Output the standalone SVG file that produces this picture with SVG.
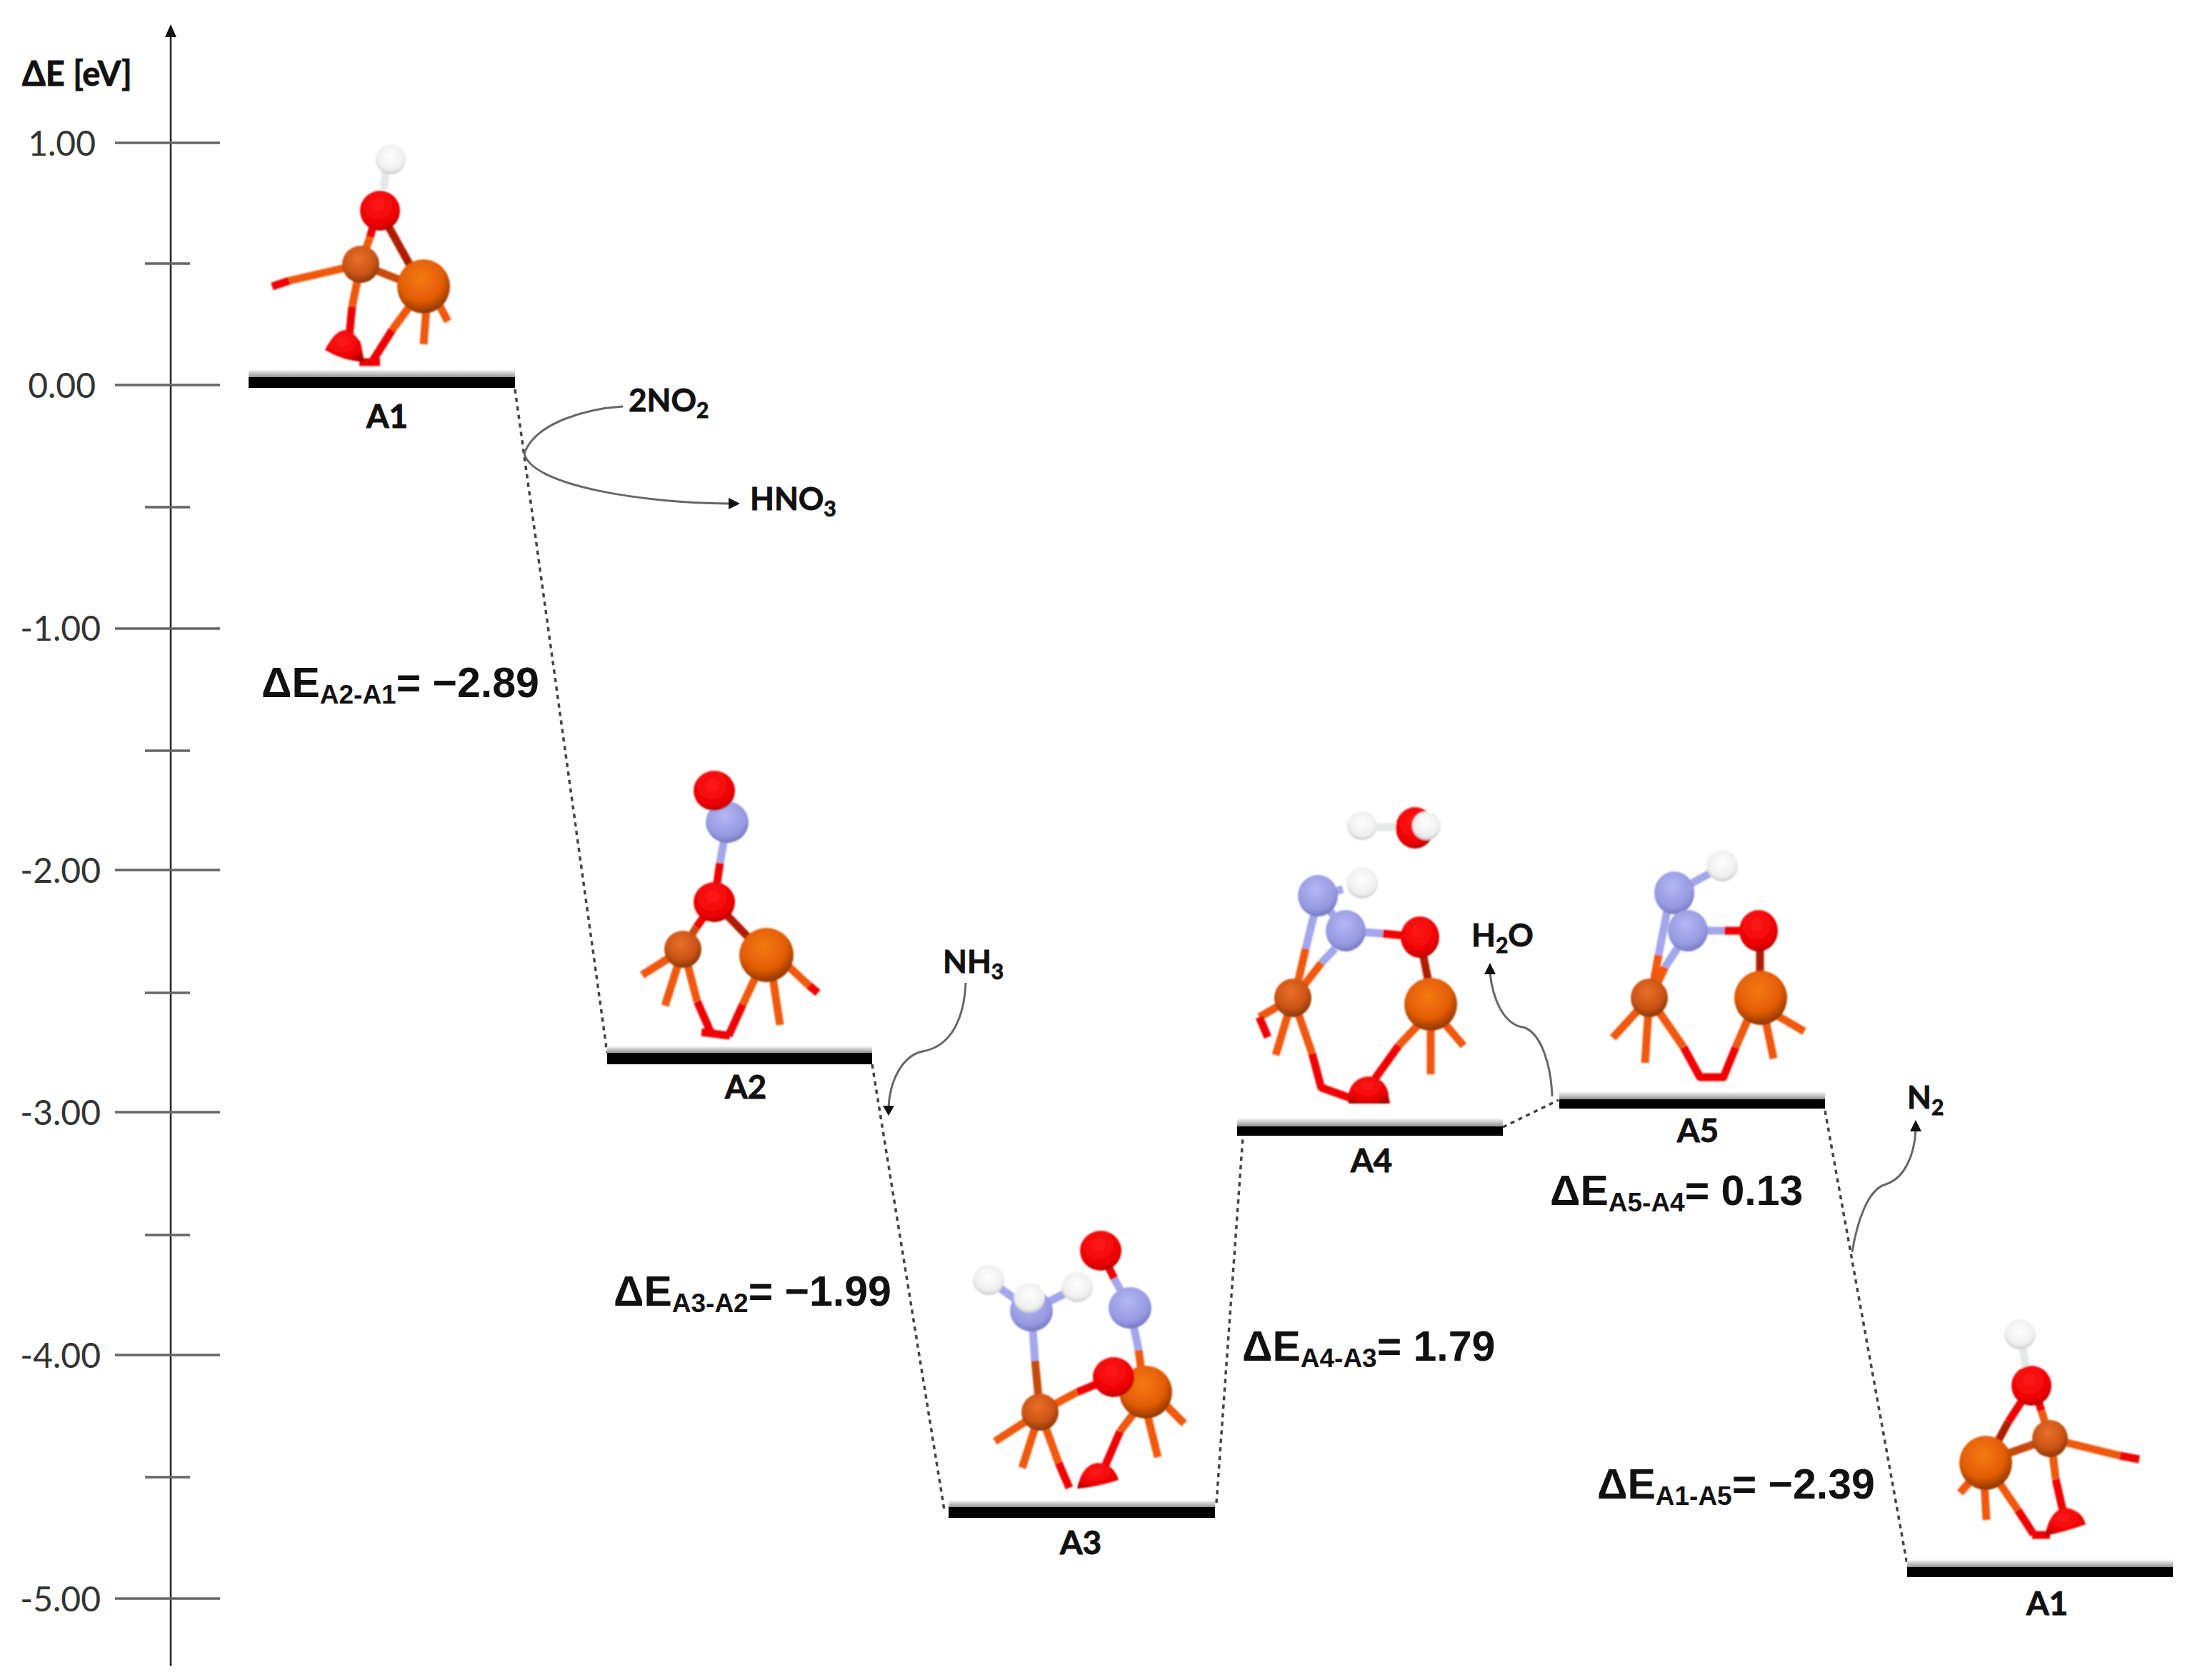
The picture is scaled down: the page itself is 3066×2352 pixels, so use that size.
<svg xmlns="http://www.w3.org/2000/svg" width="3066" height="2352" viewBox="0 0 3066 2352">
<style>
text{font-family:"Lato","Liberation Sans",sans-serif;fill:#111}
.b{font-weight:700;font-size:44px;stroke:#111;stroke-width:.8}
.eu{font-size:47px}
.s{font-size:30px}
.lab{font-weight:700;font-size:46px;text-anchor:middle;stroke:#111;stroke-width:.8}
.tick{font-size:48px;font-weight:400;text-anchor:end;fill:#333}
.de{font-family:"Liberation Sans",sans-serif;font-weight:700;font-size:59px;fill:#111}
.sub{font-size:37px}
.ax{stroke:#222;stroke-width:2.5;fill:none}
.t{stroke:#666;stroke-width:3.5;fill:none}
.dot{stroke:#444;stroke-width:3.5;stroke-dasharray:6 6;fill:none}
.cur{stroke:#666;stroke-width:3;fill:none}
.mol line{stroke-width:11;stroke-linecap:butt}
.mol{filter:url(#soft)}
.o{stroke:#f00000}.f{stroke:#f0590f}.d{stroke:#b01c05}.n{stroke:#a2a6ea}.w{stroke:#e4e8e8}.m{stroke:#c8480a}
.fb{fill:url(#gF)}.fs{fill:url(#gS)}.ao{fill:url(#gO)}.an{fill:url(#gN)}.ah{fill:url(#gH)}
.bar{fill:#000}.sh{fill:url(#gB)}
</style>
<defs>
<filter id="soft" x="-5%" y="-5%" width="110%" height="110%"><feGaussianBlur stdDeviation="1.2"/></filter>
<radialGradient id="gF" cx="45%" cy="35%" r="70%"><stop offset="0" stop-color="#f47a10"/><stop offset=".6" stop-color="#e45c05"/><stop offset="1" stop-color="#7a2e04"/></radialGradient>
<radialGradient id="gS" cx="45%" cy="35%" r="70%"><stop offset="0" stop-color="#e8702a"/><stop offset=".6" stop-color="#cc5414"/><stop offset="1" stop-color="#7a3208"/></radialGradient>
<radialGradient id="gO" cx="45%" cy="35%" r="70%"><stop offset="0" stop-color="#ff1a1a"/><stop offset=".7" stop-color="#ee0000"/><stop offset="1" stop-color="#a80000"/></radialGradient>
<radialGradient id="gN" cx="45%" cy="35%" r="70%"><stop offset="0" stop-color="#b4b8f2"/><stop offset=".7" stop-color="#9498e0"/><stop offset="1" stop-color="#6a6eb4"/></radialGradient>
<radialGradient id="gH" cx="50%" cy="40%" r="65%"><stop offset="0" stop-color="#fff"/><stop offset=".7" stop-color="#eeeeee"/><stop offset="1" stop-color="#c0c0c0"/></radialGradient>
<linearGradient id="gB" x1="0" y1="0" x2="0" y2="1"><stop offset="0" stop-color="#fff"/><stop offset="1" stop-color="#888"/></linearGradient>
</defs>
<rect width="3066" height="2352" fill="#fff"/>

<g id="axis">
<line class="ax" x1="239" y1="2332" x2="239" y2="50"/>
<path d="M239 34L231 52H247Z" fill="#111"/>
<text class="b eu" x="31" y="120">ΔE [eV]</text>
<line class="t" x1="161" y1="200" x2="308" y2="200"/>
<line class="t" x1="203" y1="369" x2="266" y2="369"/>
<line class="t" x1="161" y1="539" x2="308" y2="539"/>
<line class="t" x1="203" y1="710" x2="266" y2="710"/>
<line class="t" x1="161" y1="880" x2="308" y2="880"/>
<line class="t" x1="203" y1="1051" x2="266" y2="1051"/>
<line class="t" x1="161" y1="1218" x2="308" y2="1218"/>
<line class="t" x1="203" y1="1390" x2="266" y2="1390"/>
<line class="t" x1="161" y1="1557" x2="308" y2="1557"/>
<line class="t" x1="203" y1="1729" x2="266" y2="1729"/>
<line class="t" x1="161" y1="1897" x2="308" y2="1897"/>
<line class="t" x1="203" y1="2068" x2="266" y2="2068"/>
<line class="t" x1="161" y1="2238" x2="308" y2="2238"/>
<text class="tick" x="134" y="218">1.00</text>
<text class="tick" x="134" y="557">0.00</text>
<text class="tick" x="141" y="897">-1.00</text>
<text class="tick" x="141" y="1236">-2.00</text>
<text class="tick" x="141" y="1575">-3.00</text>
<text class="tick" x="141" y="1915">-4.00</text>
<text class="tick" x="141" y="2256">-5.00</text>
</g>

<g id="connectors">
<path class="dot" d="M721 545L850 1474"/>
<path class="dot" d="M1221 1490L1322 2114"/>
<path class="dot" d="M1703 2104L1740 1592"/>
<path class="dot" d="M2104 1578L2182 1540"/>
<path class="dot" d="M2555 1555L2670 2190"/>
<path class="cur" d="M872 569C825 572 750 590 734 635C745 680 900 705 1028 705" />
<path d="M1036 705L1020 697V713Z" fill="#111"/>
<path class="cur" d="M1352 1376C1350 1420 1335 1465 1291 1472C1265 1478 1246 1510 1244 1550"/>
<path d="M1244 1562L1236 1548H1252Z" fill="#111"/>
<path class="cur" d="M2173 1535C2172 1500 2160 1440 2127 1437C2105 1430 2090 1400 2086 1362"/>
<path d="M2086 1348L2078 1364H2094Z" fill="#111"/>
<path class="cur" d="M2593 1753C2600 1710 2615 1665 2640 1658C2665 1650 2680 1620 2682 1582"/>
<path d="M2682 1568L2674 1584H2690Z" fill="#111"/>
<text class="b" x="880" y="576">2NO<tspan class="s" dy="9">2</tspan></text>
<text class="b" x="1050" y="714">HNO<tspan class="s" dy="9">3</tspan></text>
<text class="b" x="1320" y="1362">NH<tspan class="s" dy="9">3</tspan></text>
<text class="b" x="2060" y="1325">H<tspan class="s" dy="9">2</tspan><tspan dy="-9">O</tspan></text>
<text class="b" x="2670" y="1552">N<tspan class="s" dy="9">2</tspan></text>
<text class="de" x="366" y="976">ΔE<tspan class="sub" dy="9">A2-A1</tspan><tspan dy="-9">= −2.89</tspan></text>
<text class="de" x="859" y="1828">ΔE<tspan class="sub" dy="9">A3-A2</tspan><tspan dy="-9">= −1.99</tspan></text>
<text class="de" x="1739" y="1905">ΔE<tspan class="sub" dy="9">A4-A3</tspan><tspan dy="-9">= 1.79</tspan></text>
<text class="de" x="2170" y="1687">ΔE<tspan class="sub" dy="9">A5-A4</tspan><tspan dy="-9">= 0.13</tspan></text>
<text class="de" x="2236" y="2098">ΔE<tspan class="sub" dy="9">A1-A5</tspan><tspan dy="-9">= −2.39</tspan></text>
</g>

<g id="node-A1">
<rect class="sh" x="348" y="517" width="373" height="12"/><rect class="bar" x="348" y="528" width="373" height="15"/>
<text class="lab" x="542" y="599">A1</text>
<g class="mol">
<line class="w" x1="540" y1="240" x2="537" y2="265"/>
<line class="o" x1="527" y1="300" x2="518" y2="332"/><line class="f" x1="518" y1="332" x2="505" y2="370"/>
<line class="d" x1="540" y1="310" x2="590" y2="400"/>
<line class="m" x1="505" y1="370" x2="593" y2="405"/>
<line class="f" x1="505" y1="370" x2="405" y2="393"/><line class="o" x1="405" y1="393" x2="381" y2="401"/>
<line class="f" x1="505" y1="370" x2="493" y2="429"/><line class="o" x1="493" y1="429" x2="488" y2="480"/>
<line class="f" x1="580" y1="420" x2="549" y2="462"/><line class="o" x1="549" y1="462" x2="520" y2="508"/>
<line class="o" x1="503" y1="507" x2="532" y2="507"/>
<line class="f" x1="597" y1="430" x2="593" y2="482"/>
<line class="f" x1="614" y1="425" x2="627" y2="450"/>
<path class="ao" d="M455 490Q480 440 505 480L510 507Q480 505 455 490Z"/>
<circle class="ah" cx="547" cy="223" r="21"/>
<circle class="ao" cx="532" cy="295" r="28"/>
<circle class="fs" cx="505" cy="370" r="26"/>
<ellipse class="fb" cx="593" cy="401" rx="37" ry="38"/>
</g>
</g>

<g id="node-A2">
<rect class="sh" x="850" y="1464" width="371" height="11"/><rect class="bar" x="850" y="1474" width="371" height="16"/>
<text class="lab" x="1044" y="1538">A2</text>
<g class="mol">
<line class="o" x1="1005" y1="1115" x2="1018" y2="1140"/>
<line class="n" x1="1018" y1="1151" x2="1008" y2="1208"/><line class="o" x1="1008" y1="1208" x2="1000" y2="1263"/>
<line class="o" x1="1000" y1="1263" x2="975" y2="1298"/><line class="m" x1="975" y1="1298" x2="956" y2="1329"/>
<line class="d" x1="1000" y1="1263" x2="1060" y2="1325"/>
<line class="f" x1="956" y1="1329" x2="899" y2="1365"/>
<line class="f" x1="956" y1="1329" x2="931" y2="1408"/>
<line class="f" x1="960" y1="1340" x2="976" y2="1402"/><line class="o" x1="976" y1="1402" x2="995" y2="1445"/>
<line class="o" x1="982" y1="1445" x2="1022" y2="1450"/>
<line class="o" x1="1020" y1="1450" x2="1040" y2="1406"/><line class="f" x1="1040" y1="1406" x2="1066" y2="1350"/>
<line class="f" x1="1079" y1="1350" x2="1092" y2="1435"/>
<line class="f" x1="1090" y1="1340" x2="1135" y2="1382"/><line class="o" x1="1133" y1="1380" x2="1145" y2="1390"/>
<ellipse class="an" cx="1018" cy="1151" rx="30" ry="29"/>
<ellipse class="ao" cx="1000" cy="1107" rx="29" ry="28"/>
<ellipse class="ao" cx="1000" cy="1263" rx="29" ry="28"/>
<ellipse class="fs" cx="956" cy="1329" rx="26" ry="26"/>
<ellipse class="fb" cx="1073" cy="1337" rx="38" ry="38"/>
</g>
</g>

<g id="node-A3">
<rect class="sh" x="1328" y="2100" width="373" height="11"/><rect class="bar" x="1328" y="2110" width="373" height="15"/>
<text class="lab" x="1513" y="2176">A3</text>
<g class="mol">
<line class="n" x1="1384" y1="1792" x2="1444" y2="1835"/>
<line class="n" x1="1508" y1="1802" x2="1444" y2="1835"/>
<line class="n" x1="1444" y1="1835" x2="1449" y2="1905"/><line class="m" x1="1449" y1="1905" x2="1456" y2="1977"/>
<line class="o" x1="1541" y1="1751" x2="1560" y2="1790"/><line class="n" x1="1560" y1="1790" x2="1582" y2="1831"/>
<line class="n" x1="1582" y1="1831" x2="1594" y2="1890"/><line class="f" x1="1594" y1="1890" x2="1600" y2="1935"/>
<line class="f" x1="1456" y1="1977" x2="1508" y2="1949"/><line class="o" x1="1508" y1="1949" x2="1559" y2="1928"/>
<line class="f" x1="1456" y1="1977" x2="1393" y2="2018"/>
<line class="f" x1="1456" y1="1977" x2="1431" y2="2055"/>
<line class="f" x1="1456" y1="1977" x2="1482" y2="2048"/><line class="o" x1="1482" y1="2048" x2="1497" y2="2083"/>
<line class="f" x1="1590" y1="1975" x2="1568" y2="2004"/><line class="o" x1="1568" y1="2004" x2="1546" y2="2055"/>
<line class="f" x1="1605" y1="1975" x2="1621" y2="2040"/>
<line class="f" x1="1630" y1="1965" x2="1658" y2="1993"/>
<path class="ao" d="M1508 2084Q1515 2050 1537 2048Q1560 2050 1566 2072Q1535 2082 1508 2084Z"/>
<ellipse class="ah" cx="1384" cy="1792" rx="22" ry="21"/>
<ellipse class="ah" cx="1508" cy="1802" rx="22" ry="21"/>
<ellipse class="an" cx="1444" cy="1835" rx="30" ry="29"/>
<ellipse class="ah" cx="1441" cy="1817" rx="22" ry="21"/>
<ellipse class="ao" cx="1541" cy="1751" rx="29" ry="28"/>
<ellipse class="an" cx="1582" cy="1831" rx="30" ry="29"/>
<ellipse class="fs" cx="1456" cy="1977" rx="26" ry="26"/>
<ellipse class="fb" cx="1604" cy="1949" rx="37" ry="37"/>
<ellipse class="ao" cx="1559" cy="1928" rx="29" ry="28"/>
</g>
</g>

<g id="node-A4">
<rect class="sh" x="1732" y="1565" width="372" height="13"/><rect class="bar" x="1732" y="1577" width="372" height="13"/>
<text class="lab" x="1920" y="1641">A4</text>
<g class="mol">
<line class="w" x1="1907" y1="1158" x2="1960" y2="1158"/>
<line class="n" x1="1845" y1="1254" x2="1880" y2="1245"/>
<line class="n" x1="1845" y1="1254" x2="1884" y2="1303"/>
<line class="n" x1="1840" y1="1279" x2="1828" y2="1328"/><line class="f" x1="1828" y1="1328" x2="1812" y2="1397"/>
<line class="n" x1="1869" y1="1328" x2="1850" y2="1348"/><line class="f" x1="1850" y1="1348" x2="1812" y2="1397"/>
<line class="n" x1="1884" y1="1303" x2="1936" y2="1307"/><line class="o" x1="1936" y1="1307" x2="1988" y2="1312"/>
<line class="d" x1="1992" y1="1335" x2="2002" y2="1385"/>
<line class="f" x1="1810" y1="1397" x2="1763" y2="1424"/><line class="o" x1="1763" y1="1424" x2="1775" y2="1452"/>
<line class="f" x1="1810" y1="1397" x2="1786" y2="1477"/>
<line class="f" x1="1810" y1="1397" x2="1837" y2="1475"/><line class="o" x1="1837" y1="1475" x2="1850" y2="1524"/>
<line class="o" x1="1848" y1="1522" x2="1890" y2="1537"/>
<line class="f" x1="1990" y1="1430" x2="1958" y2="1464"/><line class="o" x1="1958" y1="1464" x2="1925" y2="1510"/>
<line class="f" x1="2003" y1="1430" x2="2003" y2="1504"/>
<line class="f" x1="2020" y1="1430" x2="2049" y2="1464"/>
<ellipse class="ah" cx="1907" cy="1156" rx="21" ry="20"/>
<ellipse class="ao" cx="1981" cy="1159" rx="27" ry="29"/>
<ellipse class="ah" cx="1997" cy="1156" rx="20" ry="20"/>
<ellipse class="an" cx="1845" cy="1254" rx="28" ry="29"/>
<ellipse class="ah" cx="1907" cy="1236" rx="22" ry="22"/>
<ellipse class="an" cx="1884" cy="1303" rx="28" ry="29"/>
<ellipse class="ao" cx="1988" cy="1312" rx="27" ry="29"/>
<ellipse class="fs" cx="1810" cy="1397" rx="26" ry="27"/>
<ellipse class="fb" cx="2003" cy="1406" rx="37" ry="37"/>
<path class="ao" d="M1888 1535A28 28 0 1 1 1944 1535L1946 1545H1888Z"/>
</g>
</g>

<g id="node-A5">
<rect class="sh" x="2183" y="1528" width="372" height="12"/><rect class="bar" x="2183" y="1539" width="372" height="13"/>
<text class="lab" x="2377" y="1599">A5</text>
<g class="mol">
<line class="n" x1="2344" y1="1250" x2="2395" y2="1222"/>
<line class="n" x1="2344" y1="1250" x2="2363" y2="1303"/>
<line class="n" x1="2335" y1="1270" x2="2322" y2="1337"/><line class="f" x1="2322" y1="1337" x2="2311" y2="1397"/>
<line class="n" x1="2350" y1="1325" x2="2331" y2="1354"/><line class="f" x1="2331" y1="1354" x2="2311" y2="1397"/>
<line class="n" x1="2363" y1="1303" x2="2414" y2="1303"/><line class="o" x1="2414" y1="1303" x2="2462" y2="1303"/>
<line class="d" x1="2464" y1="1325" x2="2464" y2="1375"/>
<line class="f" x1="2309" y1="1397" x2="2258" y2="1453"/>
<line class="f" x1="2309" y1="1397" x2="2303" y2="1488"/>
<line class="f" x1="2309" y1="1397" x2="2357" y2="1466"/><line class="o" x1="2357" y1="1466" x2="2381" y2="1510"/>
<line class="o" x1="2378" y1="1508" x2="2416" y2="1508"/>
<line class="o" x1="2412" y1="1510" x2="2430" y2="1466"/><line class="f" x1="2430" y1="1466" x2="2450" y2="1420"/>
<line class="f" x1="2470" y1="1420" x2="2483" y2="1482"/>
<line class="f" x1="2485" y1="1420" x2="2526" y2="1444"/>
<ellipse class="ah" cx="2411" cy="1212" rx="22" ry="22"/>
<ellipse class="an" cx="2344" cy="1250" rx="28" ry="30"/>
<ellipse class="an" cx="2363" cy="1303" rx="28" ry="29"/>
<ellipse class="ao" cx="2462" cy="1303" rx="27" ry="29"/>
<ellipse class="fs" cx="2309" cy="1397" rx="26" ry="27"/>
<ellipse class="fb" cx="2465" cy="1397" rx="37" ry="38"/>
</g>
</g>

<g id="node-A1b">
<rect class="sh" x="2670" y="2183" width="372" height="12"/><rect class="bar" x="2670" y="2194" width="372" height="14"/>
<text class="lab" x="2866" y="2261">A1</text>
<g class="mol">
<line class="w" x1="2832" y1="1885" x2="2836" y2="1915"/>
<line class="o" x1="2838" y1="1950" x2="2812" y2="1990"/><line class="d" x1="2812" y1="1990" x2="2785" y2="2040"/>
<line class="o" x1="2850" y1="1950" x2="2858" y2="1975"/><line class="f" x1="2858" y1="1975" x2="2870" y2="2014"/>
<line class="m" x1="2780" y1="2046" x2="2870" y2="2014"/>
<line class="f" x1="2870" y1="2014" x2="2968" y2="2038"/><line class="o" x1="2968" y1="2038" x2="2995" y2="2043"/>
<line class="f" x1="2872" y1="2020" x2="2878" y2="2071"/><line class="o" x1="2878" y1="2071" x2="2888" y2="2115"/>
<line class="f" x1="2795" y1="2070" x2="2825" y2="2114"/><line class="o" x1="2825" y1="2114" x2="2847" y2="2148"/>
<line class="o" x1="2845" y1="2149" x2="2870" y2="2149"/>
<line class="f" x1="2760" y1="2072" x2="2744" y2="2090"/>
<line class="f" x1="2778" y1="2075" x2="2781" y2="2128"/>
<path class="ao" d="M2863 2150Q2870 2112 2893 2111Q2915 2115 2920 2134Q2890 2145 2863 2150Z"/>
<ellipse class="ah" cx="2828" cy="1868" rx="22" ry="21"/>
<ellipse class="ao" cx="2844" cy="1940" rx="28" ry="28"/>
<ellipse class="fs" cx="2870" cy="2014" rx="25" ry="26"/>
<ellipse class="fb" cx="2780" cy="2048" rx="37" ry="38"/>
</g>
</g>
</svg>
